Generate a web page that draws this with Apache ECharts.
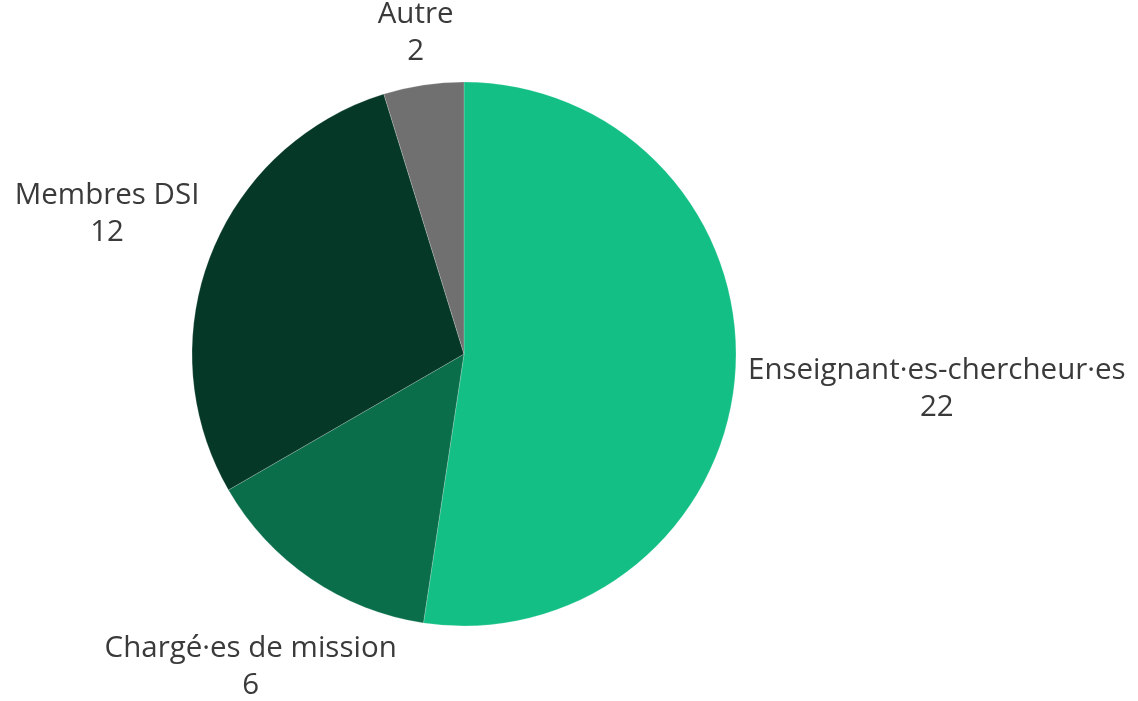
<!DOCTYPE html>
<html>
<head>
<meta charset="utf-8">
<script src="https://cdn.jsdelivr.net/npm/echarts@6/dist/echarts.min.js"></script>
<style>
  html, body { margin: 0; padding: 0; background: #fff; }
  #chart { width: 1138px; height: 701px; }
</style>
</head>
<body>
<div id="chart"></div>
<script>
// données
const categories = ['Enseignant·es-chercheur·es', 'Chargé·es de mission', 'Membres DSI', 'Autre']
const values = [22, 6, 12, 2]
const colors = ['#13bf85', '#0b6e4b', '#053826', '#707070']

const CX = 464
const CY = 354
const R = 272
const GAP = 12

const chart = echarts.init(document.getElementById('chart'))
const total = values.reduce((a, b) => a + b, 0)

// angle médian de chaque part (départ en haut, sens horaire)
const midAngles = []
let cum = 0
values.forEach((v) => {
  midAngles.push(90 - 360 * (cum + v / 2) / total)
  cum += v
})

// place le centre de l'étiquette pour que la boîte reste juste hors du disque
const placeLabel = (params) => {
  const a = midAngles[params.dataIndex] * Math.PI / 180
  const w = params.labelRect.width / 2
  const h = params.labelRect.height / 2
  const boxDist = (d) => {
    const dx = Math.max(Math.abs(d * Math.cos(a)) - w, 0)
    const dy = Math.max(Math.abs(d * Math.sin(a)) - h, 0)
    return Math.sqrt(dx * dx + dy * dy)
  }
  let lo = 0, hi = 2000
  for (let i = 0; i < 50; i++) {
    const mid = (lo + hi) / 2
    if (boxDist(mid) < R + GAP) lo = mid
    else hi = mid
  }
  return {
    x: CX + lo * Math.cos(a),
    y: CY - lo * Math.sin(a),
    align: 'center',
    verticalAlign: 'middle',
  }
}

const option = {
  animation: false,
  series: [
    {
      type: 'pie',
      center: [CX, CY],
      radius: R,
      startAngle: 90,
      clockwise: true,
      data: categories.map((name, i) => ({
        name,
        value: values[i],
        itemStyle: { color: colors[i] },
      })),
      itemStyle: {
        borderColor: 'rgba(255,255,255,0.4)',
        borderWidth: 0.5,
      },
      label: {
        show: true,
        position: 'outside',
        formatter: '{b}\n{c}',
        fontFamily: 'Open Sans',
        fontSize: 29.5,
        lineHeight: 37,
        color: '#3a3a3a',
        align: 'center',
        overflow: 'none',
      },
      labelLine: { show: false },
      labelLayout: placeLabel,
      emphasis: { disabled: true },
    },
  ],
}

chart.setOption(option)
</script>
</body>
</html>
